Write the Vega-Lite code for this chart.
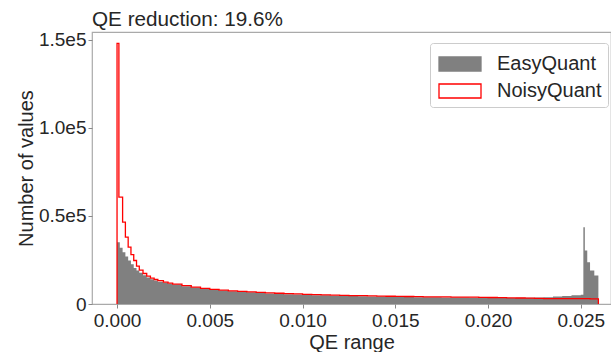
{
  "$schema": "https://vega.github.io/schema/vega-lite/v6.json",
  "width": 519,
  "height": 272,
  "autosize": {"type": "none"},
  "padding": {"left": 92, "top": 32, "right": 0, "bottom": 48},
  "background": "white",
  "config": {
    "font": "Liberation Sans",
    "view": {"stroke": "#aaaaaa", "strokeWidth": 1.2},
    "axis": {"domain": false, "grid": false, "tickColor": "#888888", "tickSize": 4, "labelColor": "#262626", "titleColor": "#262626", "labelFontSize": 19, "titleFontSize": 20, "titleFontWeight": "normal"},
    "legend": {"orient": "none", "legendX": 338, "legendY": 11, "title": null,
               "symbolType": "M-1.5,-0.5H1.5V0.5H-1.5Z", "symbolSize": 784, "symbolOffset": 9, "symbolStrokeWidth": 1.3,
               "labelOffset": 22, "labelFontSize": 20, "labelColor": "#262626", "padding": 6, "rowPadding": 2,
               "fillColor": "white", "strokeColor": "#cccccc", "cornerRadius": 3}
  },
  "title": {"text": "QE reduction: 19.6%", "anchor": "start", "frame": "group", "fontSize": 20.7, "fontWeight": "normal", "offset": 0, "color": "#262626"},
  "datasets": {
    "easy": [
      {"x": 0, "y": 35000}, {"x": 0.00015, "y": 32000}, {"x": 0.0003, "y": 29400}, {"x": 0.00045, "y": 27000},
      {"x": 0.0006, "y": 24700}, {"x": 0.00075, "y": 22500}, {"x": 0.0009, "y": 20500}, {"x": 0.00105, "y": 19000},
      {"x": 0.0012, "y": 17800}, {"x": 0.0014, "y": 16300}, {"x": 0.0016, "y": 15000}, {"x": 0.0018, "y": 14100},
      {"x": 0.002, "y": 13300}, {"x": 0.0022, "y": 12700}, {"x": 0.0025, "y": 12000}, {"x": 0.00275, "y": 11500},
      {"x": 0.003, "y": 11000}, {"x": 0.0035, "y": 10100}, {"x": 0.004, "y": 9300}, {"x": 0.0045, "y": 8600},
      {"x": 0.005, "y": 8000}, {"x": 0.0055, "y": 7600}, {"x": 0.006, "y": 7200}, {"x": 0.0065, "y": 6900},
      {"x": 0.007, "y": 6600}, {"x": 0.0075, "y": 6300}, {"x": 0.008, "y": 6000}, {"x": 0.0085, "y": 5800},
      {"x": 0.009, "y": 5600}, {"x": 0.0095, "y": 5400}, {"x": 0.01, "y": 5200}, {"x": 0.0105, "y": 5000},
      {"x": 0.011, "y": 4900}, {"x": 0.0115, "y": 4700}, {"x": 0.012, "y": 4600}, {"x": 0.0125, "y": 4500},
      {"x": 0.013, "y": 4400}, {"x": 0.0135, "y": 4300}, {"x": 0.014, "y": 4200}, {"x": 0.0145, "y": 4100},
      {"x": 0.015, "y": 4000}, {"x": 0.0155, "y": 3950}, {"x": 0.016, "y": 3900}, {"x": 0.0165, "y": 3850},
      {"x": 0.017, "y": 3800}, {"x": 0.0175, "y": 3750}, {"x": 0.018, "y": 3700}, {"x": 0.0185, "y": 3650},
      {"x": 0.019, "y": 3600}, {"x": 0.0195, "y": 3550}, {"x": 0.02, "y": 3500}, {"x": 0.0205, "y": 3500},
      {"x": 0.021, "y": 3450}, {"x": 0.0215, "y": 3500}, {"x": 0.022, "y": 3550}, {"x": 0.0225, "y": 3650},
      {"x": 0.023, "y": 3800}, {"x": 0.0235, "y": 4200}, {"x": 0.024, "y": 4600}, {"x": 0.0245, "y": 4900},
      {"x": 0.025, "y": 5200}, {"x": 0.02514, "y": 43600}, {"x": 0.02522, "y": 30400}, {"x": 0.02535, "y": 23700},
      {"x": 0.0255, "y": 19000}, {"x": 0.02573, "y": 16200}, {"x": 0.02595, "y": 0}
    ],
    "noisy": [
      {"i": 0, "x": 0, "y": 0}, {"i": 1, "x": 0, "y": 148000}, {"i": 2, "x": 0.0001, "y": 60700}, {"i": 3, "x": 0.0003, "y": 46500},
      {"i": 4, "x": 0.00045, "y": 38000}, {"i": 5, "x": 0.0006, "y": 32300}, {"i": 6, "x": 0.00075, "y": 28000}, {"i": 7, "x": 0.0009, "y": 24700},
      {"i": 8, "x": 0.00105, "y": 21500}, {"i": 9, "x": 0.0012, "y": 19200}, {"i": 10, "x": 0.0014, "y": 17300}, {"i": 11, "x": 0.0016, "y": 15800},
      {"i": 12, "x": 0.0018, "y": 14700}, {"i": 13, "x": 0.002, "y": 13900}, {"i": 14, "x": 0.0022, "y": 13300}, {"i": 15, "x": 0.0025, "y": 12400},
      {"i": 16, "x": 0.00275, "y": 11800}, {"i": 17, "x": 0.003, "y": 11300}, {"i": 18, "x": 0.0035, "y": 10400}, {"i": 19, "x": 0.004, "y": 9600},
      {"i": 20, "x": 0.0045, "y": 8900}, {"i": 21, "x": 0.005, "y": 8300}, {"i": 22, "x": 0.0055, "y": 7900}, {"i": 23, "x": 0.006, "y": 7500},
      {"i": 24, "x": 0.0065, "y": 7200}, {"i": 25, "x": 0.007, "y": 6900}, {"i": 26, "x": 0.0075, "y": 6600}, {"i": 27, "x": 0.008, "y": 6300},
      {"i": 28, "x": 0.0085, "y": 6100}, {"i": 29, "x": 0.009, "y": 5900}, {"i": 30, "x": 0.0095, "y": 5700}, {"i": 31, "x": 0.01, "y": 5500},
      {"i": 32, "x": 0.0105, "y": 5300}, {"i": 33, "x": 0.011, "y": 5200}, {"i": 34, "x": 0.0115, "y": 5000}, {"i": 35, "x": 0.012, "y": 4900},
      {"i": 36, "x": 0.0125, "y": 4800}, {"i": 37, "x": 0.013, "y": 4700}, {"i": 38, "x": 0.0135, "y": 4600}, {"i": 39, "x": 0.014, "y": 4500},
      {"i": 40, "x": 0.0145, "y": 4400}, {"i": 41, "x": 0.015, "y": 4300}, {"i": 42, "x": 0.0155, "y": 4250}, {"i": 43, "x": 0.016, "y": 4200},
      {"i": 44, "x": 0.0165, "y": 4100}, {"i": 45, "x": 0.017, "y": 4050}, {"i": 46, "x": 0.0175, "y": 4000}, {"i": 47, "x": 0.018, "y": 3950},
      {"i": 48, "x": 0.0185, "y": 3900}, {"i": 49, "x": 0.019, "y": 3850}, {"i": 50, "x": 0.0195, "y": 3800}, {"i": 51, "x": 0.02, "y": 3700},
      {"i": 52, "x": 0.0205, "y": 3600}, {"i": 53, "x": 0.021, "y": 3500}, {"i": 54, "x": 0.0215, "y": 3400}, {"i": 55, "x": 0.022, "y": 3300},
      {"i": 56, "x": 0.0225, "y": 3200}, {"i": 57, "x": 0.023, "y": 3100}, {"i": 58, "x": 0.0235, "y": 3050}, {"i": 59, "x": 0.024, "y": 3000},
      {"i": 60, "x": 0.0245, "y": 3000}, {"i": 61, "x": 0.025, "y": 3000}, {"i": 62, "x": 0.0255, "y": 2900}, {"i": 63, "x": 0.02595, "y": 0}
    ]
  },
  "layer": [
    {
      "data": {"name": "easy"},
      "mark": {"type": "area", "interpolate": "step-after", "clip": true, "opacity": 1},
      "encoding": {
        "x": {"field": "x", "type": "quantitative", "scale": {"domain": [-0.00135, 0.02663], "nice": false, "zero": false},
              "axis": {"values": [0, 0.005, 0.01, 0.015, 0.02, 0.025], "format": ".3f", "title": "QE range", "labelPadding": 3, "titlePadding": 2}},
        "y": {"field": "y", "type": "quantitative", "scale": {"domain": [0, 154400], "nice": false},
              "axis": {"values": [0, 50000, 100000, 150000], "labelExpr": "datum.value == 0 ? '0' : format(datum.value / 100000, '.1f') + 'e5'", "title": "Number of values", "labelPadding": 2, "titlePadding": 2}},
        "fill": {"datum": "EasyQuant", "type": "nominal",
                 "scale": {"domain": ["EasyQuant", "NoisyQuant"], "range": ["#808080", "#ffffff"]}}
      }
    },
    {
      "data": {"name": "noisy"},
      "mark": {"type": "line", "interpolate": "step-after", "clip": true, "strokeWidth": 1.3},
      "encoding": {
        "x": {"field": "x", "type": "quantitative"},
        "y": {"field": "y", "type": "quantitative"},
        "order": {"field": "i", "type": "quantitative"},
        "stroke": {"datum": "NoisyQuant", "type": "nominal",
                   "scale": {"domain": ["EasyQuant", "NoisyQuant"], "range": ["#808080", "#ff0000"]}}
      }
    }
  ]
}
